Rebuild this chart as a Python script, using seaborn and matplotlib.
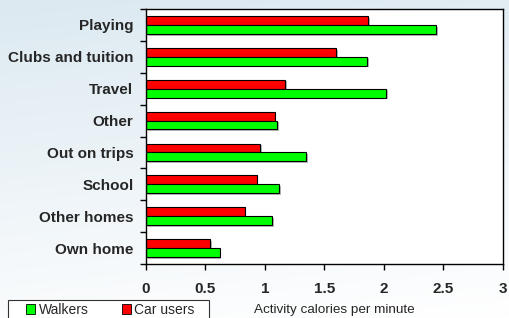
import numpy as np
import pandas as pd
import matplotlib
matplotlib.use("Agg")
import matplotlib.pyplot as plt
import matplotlib.patheffects as pe
from matplotlib.patches import Patch, Rectangle
from matplotlib.colors import LinearSegmentedColormap
import seaborn as sns

# 数据
categories = ["Playing", "Clubs and tuition", "Travel", "Other",
              "Out on trips", "School", "Other homes", "Own home"]
walkers = [2.44, 1.86, 2.02, 1.10, 1.345, 1.12, 1.06, 0.62]
car_users = [1.865, 1.60, 1.17, 1.08, 0.96, 0.93, 0.83, 0.54]
x_ticks = [0, 0.5, 1, 1.5, 2, 2.5, 3]
x_tick_labels = ["0", "0.5", "1", "1.5", "2", "2.5", "3"]

df = pd.DataFrame({
    "cat": categories * 2,
    "value": car_users + walkers,
    "group": ["Car users"] * len(categories) + ["Walkers"] * len(categories),
})

sns.set_theme(style="white")
plt.rcParams["font.family"] = ["Liberation Sans", "DejaVu Sans"]

W, H = 510, 318
fig = plt.figure(figsize=(5.1, 3.18), dpi=100)

# 背景渐变：上蓝下白
bg = fig.add_axes([0, 0, 1, 1], zorder=-10)
yy, xx = np.mgrid[0:1:200j, 0:1:300j]
grad = 0.85 * (1 - yy) + 0.15 * (1 - xx)
bg.imshow(grad, cmap=LinearSegmentedColormap.from_list("bgc", ["#ffffff", "#dce9f1"]),
          aspect="auto", extent=[0, 1, 0, 1], origin="upper", vmin=0, vmax=1)
bg.axis("off")

ax = fig.add_axes([146 / W, 1 - 264 / H, 357 / W, 255 / H])
sns.barplot(data=df, y="cat", x="value", hue="group", order=categories,
            hue_order=["Car users", "Walkers"],
            palette={"Car users": "#ff0000", "Walkers": "#00ff00"},
            saturation=1, width=0.56, edgecolor="black", linewidth=0.8,
            legend=False, ax=ax)
for p in ax.patches:
    p.set_path_effects([pe.SimplePatchShadow(offset=(1.2, -1.2), shadow_rgbFace="#888888", alpha=0.6),
                        pe.Normal()])

ax.set_facecolor("white")
ax.set_xlim(0, 3)
ax.set_ylim(len(categories) - 0.5, -0.5)
ax.set_xticks(x_ticks)
ax.set_xticklabels(x_tick_labels, fontsize=11, fontweight="bold")
ax.set_yticks(range(len(categories)))
ax.set_yticklabels(categories, fontsize=11, fontweight="bold")
ax.set_yticks(np.arange(-0.5, len(categories), 1), minor=True)
ax.tick_params(axis="y", which="major", length=0, pad=9)
ax.tick_params(axis="y", which="minor", left=True, length=4, width=1, color="black")
ax.tick_params(axis="x", which="major", bottom=True, length=4, width=1, color="black", pad=9)
ax.set_xlabel("")
ax.set_ylabel("")
for s in ax.spines.values():
    s.set_color("black")
    s.set_linewidth(1)

# 图例（外框单独画）
fig.patches.append(Rectangle((8 / W, -0.01), 201 / W, 0.01 + 1 - 300 / H,
                             transform=fig.transFigure, facecolor="white",
                             edgecolor="#333333", linewidth=0.8, zorder=1))
handles = [Patch(facecolor="#00ff00", edgecolor="black", linewidth=0.6, label="Walkers"),
           Patch(facecolor="#ff0000", edgecolor="black", linewidth=0.6, label="Car users")]
leg = fig.legend(handles=handles, loc="center left", bbox_to_anchor=(26 / W, 1 - 310 / H),
                 ncol=2, frameon=False, fontsize=10,
                 handlelength=0.65, handleheight=0.65, handletextpad=0.25,
                 columnspacing=2.4, borderpad=0, borderaxespad=0)
leg.set_zorder(2)

fig.text(334 / W, 1 - 310 / H, "Activity calories per minute",
         ha="center", va="center", fontsize=9.7)

fig.savefig("out.png", dpi=100)
